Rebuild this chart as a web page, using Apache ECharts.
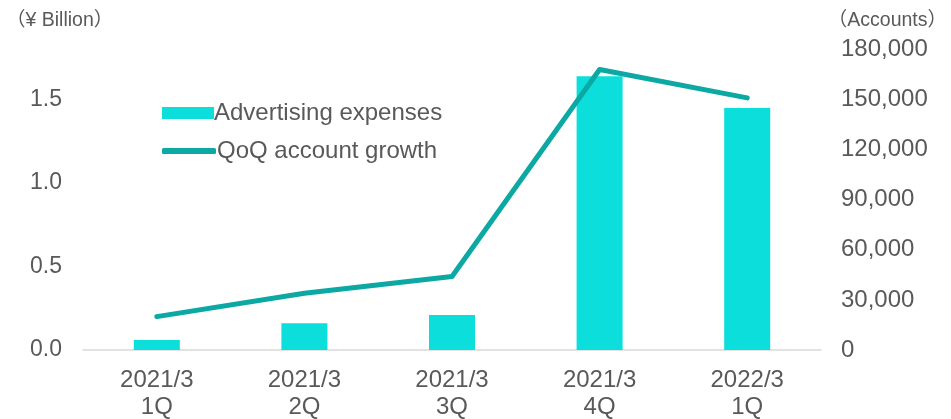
<!DOCTYPE html>
<html>
<head>
<meta charset="utf-8">
<script src="https://cdn.jsdelivr.net/npm/echarts@6/dist/echarts.min.js"></script>
<style>
  html, body { margin: 0; padding: 0; background: #fff; }
  #chart { width: 951px; height: 419px; }
</style>
</head>
<body>
<div id="chart"></div>
<script>
// Quarter labels along the bottom axis
const categories = ['2021/3\n1Q', '2021/3\n2Q', '2021/3\n3Q', '2021/3\n4Q', '2022/3\n1Q'];
// Advertising expenses, ¥ billion (left axis)
const adExpenses = [0.06, 0.16, 0.21, 1.64, 1.45];
// Quarter-on-quarter account growth (right axis)
const accountGrowth = [20000, 34000, 44000, 168000, 151000];

const seriesNames = ['Advertising expenses', 'QoQ account growth'];
const leftAxisName = '（¥ Billion）';
const rightAxisName = '（Accounts）';

const FONT = '"Liberation Sans", Arial, "Noto Sans CJK JP", sans-serif';
const TEXT = '#595959';
const BAR = '#0BDEDB';
const LINE = '#0BA8A4';

const chart = echarts.init(document.getElementById('chart'), null, { renderer: 'canvas' });

chart.setOption({
  animation: false,
  backgroundColor: '#fff',
  textStyle: { fontFamily: FONT, color: TEXT },
  grid: { left: 83, right: 130, top: 49.5, bottom: 69, containLabel: false, outerBoundsMode: 'none' },
  graphic: [
    { type: 'text', left: 6, top: 11,
      style: { text: leftAxisName, font: '19.5px ' + FONT, fill: TEXT } },
    { type: 'text', right: 4, top: 11,
      style: { text: rightAxisName, font: '19.5px ' + FONT, fill: TEXT } }
  ],
  legend: [
    {
      data: [{ name: seriesNames[0], icon: 'rect' }], left: 157, top: 96, orient: 'vertical',
      itemWidth: 52, itemHeight: 12,
      textStyle: { fontSize: 24, color: TEXT, fontFamily: FONT, lineHeight: 24, padding: [0, 0, 0, -5] }
    },
    {
      data: [{ name: seriesNames[1], icon: 'roundRect' }], left: 157, top: 134, orient: 'vertical',
      itemWidth: 54, itemHeight: 6,
      textStyle: { fontSize: 24, color: TEXT, fontFamily: FONT, lineHeight: 24, padding: [0, 0, 0, -4] }
    }
  ],
  xAxis: {
    type: 'category',
    data: categories,
    axisLine: { show: true, lineStyle: { color: '#D9D9D9', width: 1.5 } },
    axisTick: { show: false },
    axisLabel: { fontSize: 24, color: TEXT, fontFamily: FONT, lineHeight: 27, margin: 17, interval: 0 }
  },
  yAxis: [
    {
      type: 'value', min: 0, max: 1.8, interval: 0.5,
      axisLine: { show: false }, axisTick: { show: false }, splitLine: { show: false },
      axisLabel: {
        fontSize: 23, color: TEXT, fontFamily: FONT, margin: 21, showMaxLabel: false,
        formatter: v => v.toFixed(1)
      }
    },
    {
      type: 'value', min: 0, max: 180000, interval: 30000,
      axisLine: { show: false }, axisTick: { show: false }, splitLine: { show: false },
      axisLabel: {
        fontSize: 24, color: TEXT, fontFamily: FONT, margin: 20,
        formatter: v => v.toLocaleString('en-US')
      }
    }
  ],
  series: [
    {
      name: seriesNames[0], type: 'bar', yAxisIndex: 0,
      data: adExpenses, barWidth: 46,
      itemStyle: { color: BAR }
    },
    {
      name: seriesNames[1], type: 'line', yAxisIndex: 1,
      data: accountGrowth, symbol: 'none',
      lineStyle: { color: LINE, width: 5, cap: 'round', join: 'round' },
      itemStyle: { color: LINE }
    }
  ]
});
</script>
</body>
</html>
